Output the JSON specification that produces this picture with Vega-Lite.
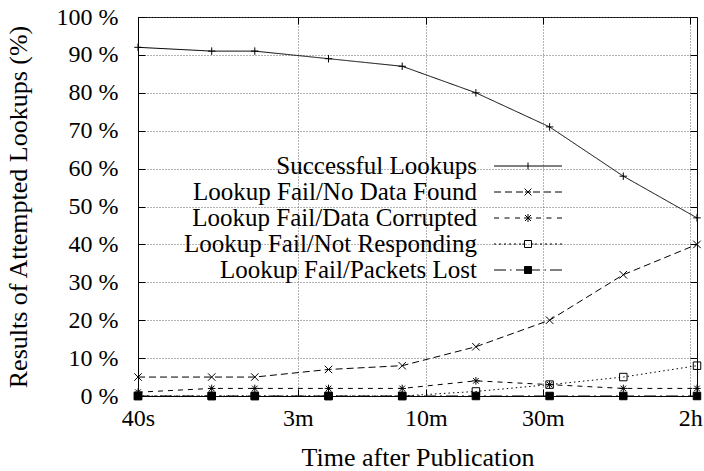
{
  "$schema": "https://vega.github.io/schema/vega-lite/v6.json",
  "width": 559,
  "height": 379,
  "autosize": {"type": "none"},
  "padding": {"left": 138, "top": 17, "right": 7, "bottom": 75},
  "background": "white",
  "config": {
    "font": "Liberation Serif, Times New Roman, Times, DejaVu Serif, serif",
    "view": {"stroke": "black", "strokeWidth": 1},
    "axis": {
      "labelFont": "Liberation Serif, Times New Roman, Times, DejaVu Serif, serif",
      "titleFont": "Liberation Serif, Times New Roman, Times, DejaVu Serif, serif",
      "labelColor": "black",
      "titleColor": "black",
      "tickColor": "black",
      "domainColor": "black",
      "labelFontSize": 24,
      "titleFontSize": 26,
      "titleFontWeight": "normal",
      "gridColor": "#666666",
      "gridDash": [1, 2],
      "gridOpacity": 1,
      "tickSize": -7,
      "tickWidth": 1,
      "domainWidth": 1
    }
  },
  "data": {
    "values": [
      {"t": 40, "series": "Successful Lookups", "value": 92},
      {"t": 80, "series": "Successful Lookups", "value": 91},
      {"t": 120, "series": "Successful Lookups", "value": 91},
      {"t": 240, "series": "Successful Lookups", "value": 89},
      {"t": 480, "series": "Successful Lookups", "value": 87},
      {"t": 960, "series": "Successful Lookups", "value": 80},
      {"t": 1920, "series": "Successful Lookups", "value": 71},
      {"t": 3840, "series": "Successful Lookups", "value": 58},
      {"t": 7680, "series": "Successful Lookups", "value": 47},
      {"t": 40, "series": "Lookup Fail/No Data Found", "value": 5},
      {"t": 80, "series": "Lookup Fail/No Data Found", "value": 5},
      {"t": 120, "series": "Lookup Fail/No Data Found", "value": 5},
      {"t": 240, "series": "Lookup Fail/No Data Found", "value": 7},
      {"t": 480, "series": "Lookup Fail/No Data Found", "value": 8},
      {"t": 960, "series": "Lookup Fail/No Data Found", "value": 13},
      {"t": 1920, "series": "Lookup Fail/No Data Found", "value": 20},
      {"t": 3840, "series": "Lookup Fail/No Data Found", "value": 32},
      {"t": 7680, "series": "Lookup Fail/No Data Found", "value": 40},
      {"t": 40, "series": "Lookup Fail/Data Corrupted", "value": 1},
      {"t": 80, "series": "Lookup Fail/Data Corrupted", "value": 2},
      {"t": 120, "series": "Lookup Fail/Data Corrupted", "value": 2},
      {"t": 240, "series": "Lookup Fail/Data Corrupted", "value": 2},
      {"t": 480, "series": "Lookup Fail/Data Corrupted", "value": 2},
      {"t": 960, "series": "Lookup Fail/Data Corrupted", "value": 4},
      {"t": 1920, "series": "Lookup Fail/Data Corrupted", "value": 3},
      {"t": 3840, "series": "Lookup Fail/Data Corrupted", "value": 2},
      {"t": 7680, "series": "Lookup Fail/Data Corrupted", "value": 2},
      {"t": 40, "series": "Lookup Fail/Not Responding", "value": 0},
      {"t": 80, "series": "Lookup Fail/Not Responding", "value": 0},
      {"t": 120, "series": "Lookup Fail/Not Responding", "value": 0},
      {"t": 240, "series": "Lookup Fail/Not Responding", "value": 0},
      {"t": 480, "series": "Lookup Fail/Not Responding", "value": 0},
      {"t": 960, "series": "Lookup Fail/Not Responding", "value": 1.2},
      {"t": 1920, "series": "Lookup Fail/Not Responding", "value": 3},
      {"t": 3840, "series": "Lookup Fail/Not Responding", "value": 5},
      {"t": 7680, "series": "Lookup Fail/Not Responding", "value": 8},
      {"t": 40, "series": "Lookup Fail/Packets Lost", "value": 0},
      {"t": 80, "series": "Lookup Fail/Packets Lost", "value": 0},
      {"t": 120, "series": "Lookup Fail/Packets Lost", "value": 0},
      {"t": 240, "series": "Lookup Fail/Packets Lost", "value": 0},
      {"t": 480, "series": "Lookup Fail/Packets Lost", "value": 0},
      {"t": 960, "series": "Lookup Fail/Packets Lost", "value": 0},
      {"t": 1920, "series": "Lookup Fail/Packets Lost", "value": 0},
      {"t": 3840, "series": "Lookup Fail/Packets Lost", "value": 0},
      {"t": 7680, "series": "Lookup Fail/Packets Lost", "value": 0}
    ]
  },
  "layer": [
    {
      "mark": {"type": "line", "strokeWidth": 1, "color": "black", "clip": false},
      "encoding": {
        "x": {
          "field": "t", "type": "quantitative",
          "scale": {"type": "log", "domain": [40, 7680], "nice": false},
          "axis": {
            "orient": "bottom",
            "values": [40, 180, 600, 1800, 7200],
            "labelExpr": "datum.value == 40 ? '40s' : datum.value == 180 ? '3m' : datum.value == 600 ? '10m' : datum.value == 1800 ? '30m' : '2h'",
            "labelPadding": 17,
            "labelFlush": false,
            "labelOverlap": false,
            "title": "Time after Publication",
            "titlePadding": 14,
            "grid": true
          }
        },
        "y": {
          "field": "value", "type": "quantitative",
          "scale": {"domain": [0, 100], "nice": false},
          "axis": {
            "orient": "left",
            "values": [0, 10, 20, 30, 40, 50, 60, 70, 80, 90, 100],
            "labelExpr": "datum.value + ' %'",
            "labelPadding": 27,
            "labelFlush": false,
            "labelOverlap": false,
            "title": "Results of Attempted Lookups (%)",
            "titlePadding": 25,
            "grid": true
          }
        },
        "detail": {"field": "series", "type": "nominal"},
        "strokeDash": {
          "condition": [
            {"test": "datum.series === 'Lookup Fail/No Data Found'", "value": [7, 4]},
            {"test": "datum.series === 'Lookup Fail/Data Corrupted'", "value": [5, 5]},
            {"test": "datum.series === 'Lookup Fail/Not Responding'", "value": [1.5, 3]},
            {"test": "datum.series === 'Lookup Fail/Packets Lost'", "value": [12, 4, 2, 4]}
          ],
          "value": [1, 0]
        }
      }
    },
    {
      "mark": {"type": "point", "filled": true, "stroke": "black", "strokeWidth": 1, "opacity": 1, "size": 56, "clip": false},
      "encoding": {
        "x": {
          "field": "t", "type": "quantitative",
          "scale": {"type": "log", "domain": [40, 7680], "nice": false},
          "axis": {"orient": "top", "values": [40, 180, 600, 1800, 7200], "labels": false, "grid": false, "domain": false, "title": null}
        },
        "y": {
          "field": "value", "type": "quantitative",
          "scale": {"domain": [0, 100], "nice": false},
          "axis": {"orient": "right", "values": [0, 10, 20, 30, 40, 50, 60, 70, 80, 90, 100], "labels": false, "grid": false, "domain": false, "title": null}
        },
        "fill": {
          "condition": {"test": "datum.series === 'Lookup Fail/Packets Lost'", "value": "black"},
          "value": "transparent"
        },
        "shape": {
          "condition": [
            {"test": "datum.series === 'Successful Lookups'", "value": "M-1,0H1M0,-1V1"},
            {"test": "datum.series === 'Lookup Fail/No Data Found'", "value": "M-1,-1L1,1M-1,1L1,-1"},
            {"test": "datum.series === 'Lookup Fail/Data Corrupted'", "value": "M-1,0H1M0,-1V1M-0.75,-0.75L0.75,0.75M-0.75,0.75L0.75,-0.75"}
          ],
          "value": "square"
        }
      }
    },
    {
      "mark": {"type": "point", "filled": true, "opacity": 0, "size": 49, "clip": false},
      "encoding": {
        "x": {"field": "t", "type": "quantitative", "scale": {"type": "log", "domain": [40, 7680], "nice": false}, "axis": null},
        "y": {"field": "value", "type": "quantitative", "scale": {"domain": [0, 100], "nice": false}, "axis": null},
        "fill": {
          "field": "series", "type": "nominal",
          "scale": {
            "domain": ["Successful Lookups", "Lookup Fail/No Data Found", "Lookup Fail/Data Corrupted", "Lookup Fail/Not Responding", "Lookup Fail/Packets Lost"],
            "range": ["transparent", "transparent", "transparent", "transparent", "black"]
          },
          "legend": {
            "orient": "none",
            "legendX": 14,
            "legendY": 136.5,
            "title": null,
            "padding": 0,
            "labelAlign": "right",
            "labelOffset": 300,
            "labelFont": "Liberation Serif, Times New Roman, Times, DejaVu Serif, serif",
            "labelFontSize": 25,
            "labelColor": "black",
            "labelLimit": 500,
            "symbolSize": 100,
            "symbolStrokeWidth": 1,
            "symbolStrokeColor": "black",
            "symbolOpacity": 1,
            "symbolOffset": 0,
            "rowPadding": -3.5,
            "symbolType": {"expr": "datum.value === 'Successful Lookups' ? 'M-2.5,0M65.9,0H79.5M72.7,-0.7V0.7' : datum.value === 'Lookup Fail/No Data Found' ? 'M-2.5,0M65.9,0H67.3M68.1,0H69.5M70.3,0H71.7M72.1,0H73.3M73.7,0H75.1M75.9,0H77.3M78.1,0H79.5M72,-0.7L73.4,0.7M72,0.7L73.4,-0.7' : datum.value === 'Lookup Fail/Data Corrupted' ? 'M-2.5,0M65.9,0H66.9M68,0H69M70.1,0H71.1M74.3,0H75.3M76.4,0H77.4M78.5,0H79.5M71.9,0H73.5M72.7,-0.8V0.8M72.1,-0.6L73.3,0.6M72.1,0.6L73.3,-0.6' : datum.value === 'Lookup Fail/Not Responding' ? 'M-2.5,0M65.9,0H66.3M66.9,0H67.3M67.9,0H68.3M68.9,0H69.3M69.9,0H70.3M70.9,0H71.3M71.6,0H72M73.4,0H73.8M74.1,0H74.5M75.1,0H75.5M76.1,0H76.5M77.1,0H77.5M78.1,0H78.5M79.1,0H79.5M72,-0.7H73.4V0.7H72Z' : 'M-2.5,0M65.9,0H68.3M69.1,0H69.4M70.3,0H72M73.4,0H75.1M76,0H76.3M77.1,0H79.5M72,-0.7H73.4V0.7H72Z'"}
          }
        }
      }
    }
  ],
  "resolve": {"axis": {"x": "independent", "y": "independent"}}
}
